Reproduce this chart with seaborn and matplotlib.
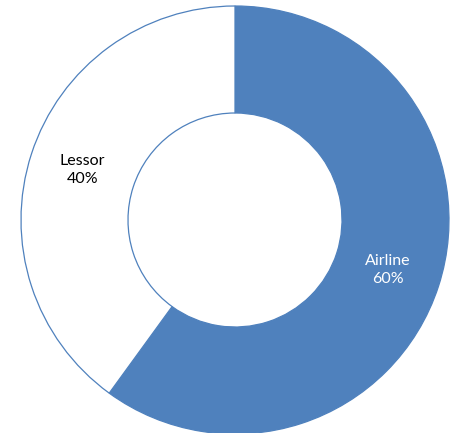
import numpy as np
import pandas as pd
import matplotlib
matplotlib.use("Agg")
import matplotlib.pyplot as plt
import seaborn as sns

categories = ["Airline", "Lessor"]
shares = [60, 40]
face_colors = ["#4F81BD", "#FFFFFF"]
text_colors = ["white", "black"]

sns.set_theme(style="white")
plt.rcParams["font.family"] = ["Lato", "DejaVu Sans"]

df = pd.DataFrame({"category": categories, "share": shares})

fig = plt.figure(figsize=(4.56, 4.33), dpi=100)
ax = fig.add_axes([0, 0, 1, 1])

wedges, texts = ax.pie(
    df["share"],
    colors=face_colors,
    startangle=90,
    counterclock=False,
    radius=1.0,
    wedgeprops=dict(width=0.5, edgecolor="#4F81BD", linewidth=0.9),
)

# labels in the middle of the ring
total = df["share"].sum()
angle = 90.0
for i, row in df.iterrows():
    span = 360.0 * row["share"] / total
    mid = np.deg2rad(angle - span / 2)
    angle -= span
    ax.text(0.75 * np.cos(mid), 0.75 * np.sin(mid),
            f"{row['category']}\n{row['share']:.0f}%",
            ha="center", va="center", fontsize=11.5,
            color=text_colors[i], linespacing=1.35)

ax.set_xlim(-235 / 214, (456 - 235) / 214)
ax.set_ylim(-213 / 214, 220 / 214)
ax.set_aspect("equal")
ax.axis("off")

fig.savefig("out.png", dpi=100)
